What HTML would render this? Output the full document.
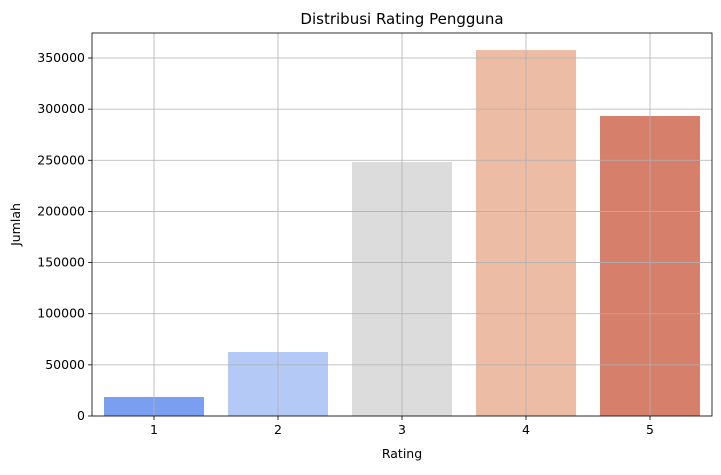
<!DOCTYPE html>
<html><head><meta charset="utf-8"><style>
body{margin:0;background:#fff;font-family:"Liberation Sans","DejaVu Sans",sans-serif;}
svg text{font-family:"DejaVu Sans","Liberation Sans",sans-serif;}
</style></head><body>
<svg id="chart" width="721" height="470" xmlns="http://www.w3.org/2000/svg"></svg>
<script>
const categories = ["1","2","3","4","5"];
const values = [18600, 62600, 248300, 357800, 293300];
const colors = ["#7b9ff0","#b4c9f5","#dcdcdc","#edbca5","#d6806c"];
const yTicks = [0,50000,100000,150000,200000,250000,300000,350000];

const L=92,R=712,T=33,B=416;
const yMax = 375000;
const y = v => B - v/yMax*(B-T)*1.0;
const yScale = v => B - v*(358/350000);
const x = i => L + (i+0.5)*(R-L)/categories.length;
const bw = 100;
const svg=document.getElementById('chart');
const NS="http://www.w3.org/2000/svg";
function mk(t,a){const e=document.createElementNS(NS,t);for(const k in a)e.setAttribute(k,a[k]);svg.appendChild(e);return e;}

// bars first (grid drawn on top like seaborn default with grid)
categories.forEach((c,i)=>{
  const r=mk('rect',{x:x(i)-bw/2,y:yScale(values[i]),width:bw,height:B-yScale(values[i]),fill:colors[i]});
  
  
});
// grid
yTicks.forEach(t=>{
  const g=mk('line',{x1:L,x2:R,y1:yScale(t),y2:yScale(t),stroke:'#b0b0b0','stroke-width':0.8});
  
  
  mk('line',{x1:L-4,x2:L,y1:yScale(t),y2:yScale(t),stroke:'#000','stroke-width':0.8});
  const tx=mk('text',{x:L-7,y:yScale(t)+4,'text-anchor':'end','font-size':12.5});
  tx.textContent=t;
  
  
});
categories.forEach((c,i)=>{
  const g=mk('line',{x1:x(i),x2:x(i),y1:T,y2:B,stroke:'#b0b0b0','stroke-width':0.8});
  
  
  mk('line',{x1:x(i),x2:x(i),y1:B,y2:B+4,stroke:'#000','stroke-width':0.8});
  const tx=mk('text',{x:x(i),y:B+18,'text-anchor':'middle','font-size':12.5});
  tx.textContent=c;
  
  
});
const fr=mk('rect',{x:L,y:T,width:R-L,height:B-T,fill:'none',stroke:'#000','stroke-width':0.8});


const title=mk('text',{x:(L+R)/2,y:24,'text-anchor':'middle','font-size':15});
title.textContent='Distribusi Rating Pengguna';


const xl=mk('text',{x:(L+R)/2,y:458,'text-anchor':'middle','font-size':12.5});
xl.textContent='Rating';


const yl=mk('text',{x:20,y:(T+B)/2,'text-anchor':'middle','font-size':12.5,transform:'rotate(-90 20 '+((T+B)/2)+')'});
yl.textContent='Jumlah';


</script>
</body></html>
